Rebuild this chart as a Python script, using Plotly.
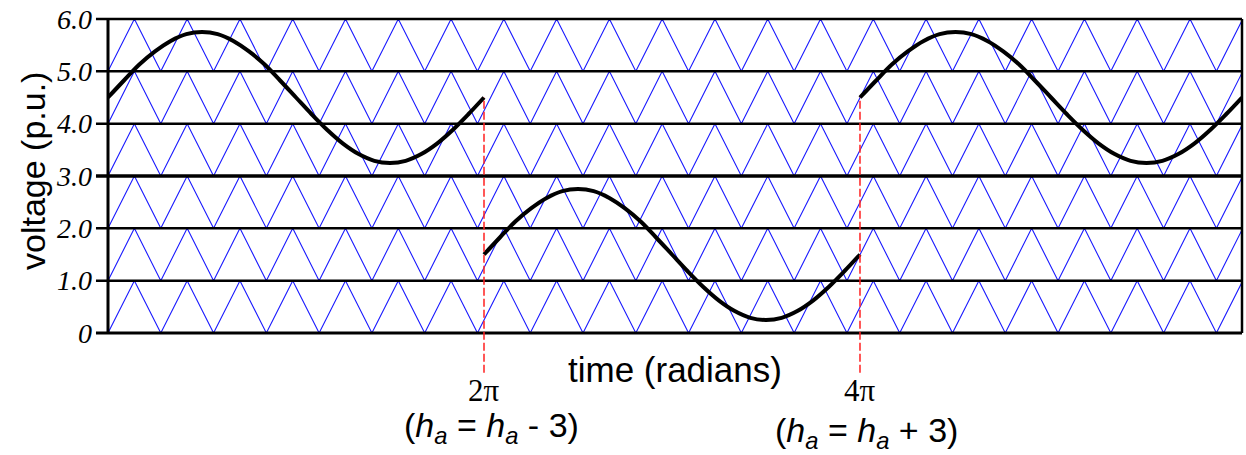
import numpy as np
import plotly.graph_objects as go

PI = np.pi

# time axis (radians): plot runs a little past 6*pi at the right border
t_end = 18.95
segment_bounds = [0.0, 2 * PI, 4 * PI, t_end]

# triangular carriers: one per 1.0 p.u. band, all in phase
band_bottoms = [0, 1, 2, 3, 4, 5]
carrier_times = [0.0, 0.441, 0.882, 1.323, 1.764, 2.205, 2.646, 3.087, 3.528,
                 3.969, 4.41, 4.851, 5.292, 5.733, 6.174, 6.615, 7.056, 7.497,
                 7.938, 8.379, 8.82, 9.261, 9.702, 10.143, 10.584, 11.025,
                 11.466, 11.907, 12.348, 12.789, 13.23, 13.671, 14.112, 14.553,
                 14.994, 15.435, 15.876, 16.317, 16.758, 17.199, 17.64, 18.081,
                 18.522, 18.963]
carrier_frac = [0, 1] * 22

# reference voltage samples (every pi/12) for each 2*pi segment
upper_segment = [4.5, 4.82, 5.13, 5.38, 5.58, 5.71, 5.75, 5.71, 5.58, 5.38,
                 5.13, 4.82, 4.5, 4.18, 3.88, 3.62, 3.42, 3.29, 3.25, 3.29,
                 3.42, 3.62, 3.88, 4.18, 4.5]
lower_segment = [1.5, 1.82, 2.13, 2.38, 2.58, 2.71, 2.75, 2.71, 2.58, 2.38,
                 2.13, 1.82, 1.5, 1.18, 0.88, 0.62, 0.42, 0.29, 0.25, 0.29,
                 0.42, 0.62, 0.88, 1.18, 1.5]
segments = [upper_segment, lower_segment, upper_segment]

# y axis
y_ticks = [0, 1, 2, 3, 4, 5, 6]
y_ticktext = ["0", "1.0", "2.0", "3.0", "4.0", "5.0", "6.0"]

# switching instants marked below the plot
switch_times = [2 * PI, 4 * PI]
switch_labels = ["2\u03c0", "4\u03c0"]
switch_notes = ["(<i>h</i><sub><i>a</i></sub> = <i>h</i><sub><i>a</i></sub> - 3)",
                "(<i>h</i><sub><i>a</i></sub> = <i>h</i><sub><i>a</i></sub> + 3)"]
switch_levels = [4.5, 4.5]

Y_MAX = 6.0

fig = go.Figure()

for b in band_bottoms:
    fig.add_trace(go.Scatter(
        x=carrier_times, y=[b + f for f in carrier_frac], mode="lines",
        line=dict(color="#1a1aff", width=1.1), hoverinfo="skip", showlegend=False))

for k, vals in enumerate(segments):
    ts = np.linspace(segment_bounds[k], segment_bounds[k + 1], len(vals))
    fig.add_trace(go.Scatter(
        x=ts, y=vals, mode="lines",
        line=dict(color="black", width=4, shape="spline"),
        hoverinfo="skip", showlegend=False))

shapes = []
# horizontal band lines (extend left as tick marks)
for lv in y_ticks:
    w = 3.5 if lv == 3 else (3 if lv == 0 else 2.5)
    shapes.append(dict(type="line", xref="paper", yref="paper",
                       x0=-0.0106, x1=1.0, y0=lv / Y_MAX, y1=lv / Y_MAX,
                       line=dict(color="black", width=w), layer="above"))
# left axis and right border
shapes.append(dict(type="line", xref="paper", yref="paper", x0=0, x1=0,
                   y0=0, y1=1, line=dict(color="black", width=3), layer="above"))
shapes.append(dict(type="line", xref="paper", yref="paper", x0=1, x1=1,
                   y0=0, y1=1, line=dict(color="black", width=2.5), layer="above"))
# red dashed markers at the switching instants
for t, lv in zip(switch_times, switch_levels):
    shapes.append(dict(type="line", xref="x", yref="paper", x0=t, x1=t,
                       y0=-0.1266, y1=lv / Y_MAX,
                       line=dict(color="#ff2020", width=1.5, dash="8px,3px"),
                       layer="above"))

annotations = [
    dict(text="voltage (p.u.)", xref="paper", yref="paper", x=-0.0661, y=0.516,
         textangle=-90, showarrow=False, xanchor="center", yanchor="middle",
         font=dict(family="Liberation Sans, Arial", size=34, color="black")),
    dict(text="time (radians)", xref="paper", yref="paper", x=0.5, y=-0.117,
         showarrow=False, xanchor="center", yanchor="middle",
         font=dict(family="Liberation Sans, Arial", size=35, color="black")),
]
note_y = [-0.301, -0.317]
note_dx = [7, 7]
for t, lab, note, ny, dx in zip(switch_times, switch_labels, switch_notes, note_y, note_dx):
    annotations.append(dict(text=lab, xref="x", yref="paper", x=t, y=-0.1835,
                            showarrow=False, xanchor="center", yanchor="middle",
                            font=dict(family="Liberation Serif, Times New Roman",
                                      size=31, color="black")))
    annotations.append(dict(text=note, xref="x", yref="paper", x=t, y=ny,
                            xshift=dx, showarrow=False, xanchor="center",
                            yanchor="middle",
                            font=dict(family="Liberation Sans, Arial", size=34,
                                      color="black")))

fig.update_layout(
    width=1246, height=455,
    margin=dict(l=108, r=4, t=17, b=122),
    paper_bgcolor="white", plot_bgcolor="white",
    shapes=shapes, annotations=annotations,
    xaxis=dict(range=[0, t_end], showgrid=False, zeroline=False,
               showticklabels=False, ticks="", showline=False),
    yaxis=dict(range=[0, Y_MAX], showgrid=False, zeroline=False, showline=False,
               tickvals=y_ticks, ticktext=y_ticktext, ticks="",
               ticklabelstandoff=15,
               tickfont=dict(family="Liberation Serif, Times New Roman", size=28,
                             color="black", style="italic")),
)

fig.write_html("out.html")
